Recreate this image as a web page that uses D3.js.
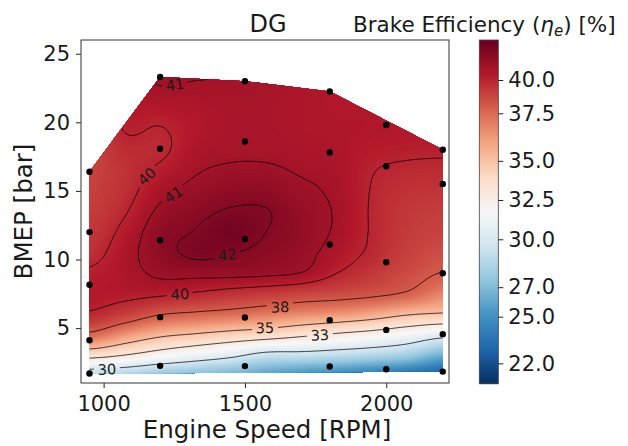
<!DOCTYPE html>
<html>
<head>
<meta charset="utf-8">
<script src="https://cdn.jsdelivr.net/npm/d3@7.9.0/dist/d3.min.js"></script>
<style>
  body { margin: 0; background: #fff; }
  svg text { font-family: "DejaVu Sans", sans-serif; fill: #1a1a1a; }
</style>
</head>
<body>
<svg id="chart" width="628" height="446"></svg>
<script>
// measured operating points
const pointSpeed = [950, 950, 950, 950, 950,
  1200, 1200, 1200, 1200, 1200,
  1500, 1500, 1500, 1500, 1500,
  1800, 1800, 1800, 1800, 1800,
  2000, 2000, 2000, 2000, 2000,
  2200, 2200, 2200, 2200, 2200];
const pointBmep = [1.69, 4.12, 8.16, 12.0, 16.4,
  2.25, 5.8, 11.4, 18.07, 23.3,
  2.23, 5.77, 11.5, 18.6, 23.0,
  2.2, 5.58, 11.1, 17.8, 22.25,
  2.0, 4.87, 9.8, 16.8, 19.8,
  1.83, 4.56, 9.0, 15.5, 18.0];

// efficiency map (rows = BMEP, columns = speed)
const gridSpeed = [950, 1075, 1200, 1325, 1450, 1575, 1700, 1825, 1950, 2075, 2200];
const gridBmep = [1.5, 3, 4.5, 6, 7.5, 9, 10.5, 12, 13.5, 15, 16.5, 18, 19.5, 21, 22.5, 24];
const efficiency = [
  [28.7, 28.3, 27.5, 27.0, 26.5, 25.8, 25.0, 24.5, 23.9, 23.2, 22.4],
  [33.6, 32.9, 32.0, 31.2, 30.4, 29.3, 29.2, 28.9, 28.5, 27.9, 26.4],
  [37.6, 36.3, 35.3, 34.8, 34.3, 33.9, 33.3, 32.7, 32.2, 31.5, 30.6],
  [39.8, 39.0, 38.05, 37.7, 37.4, 37.0, 36.6, 36.3, 35.8, 35.1, 34.8],
  [40.4, 40.35, 40.2, 39.86, 39.5, 39.2, 38.85, 38.6, 38.3, 37.8, 36.8],
  [40.15, 40.6, 41.2, 41.3, 41.3, 41.2, 40.95, 40.0, 39.3, 38.6, 37.95],
  [39.6, 40.6, 41.6, 42.2, 42.05, 41.7, 41.35, 40.55, 39.8, 39.0, 38.5],
  [39.3, 40.3, 41.6, 42.05, 42.55, 42.0, 41.5, 40.85, 39.9, 39.2, 38.9],
  [39.1, 39.9, 41.2, 41.7, 42.1, 42.05, 41.4, 40.9, 39.9, 39.3, 39.1],
  [39.0, 39.6, 40.7, 41.3, 41.6, 41.6, 41.2, 40.8, 39.95, 39.5, 39.4],
  [38.9, 39.5, 40.2, 40.9, 41.15, 41.15, 40.9, 40.7, 40.05, 39.8, 39.75],
  [38.8, 39.7, 39.8, 40.6, 40.8, 40.8, 40.7, 40.6, 40.3, 40.2, 40.15],
  [38.8, 40.05, 39.95, 40.45, 40.7, 40.7, 40.6, 40.55, 40.5, 40.4, 40.4],
  [39.5, 40.3, 40.4, 40.55, 40.75, 40.7, 40.6, 40.5, 40.5, 40.5, 40.5],
  [40.0, 40.5, 40.95, 40.85, 40.9, 40.8, 40.6, 40.5, 40.5, 40.5, 40.5],
  [40.2, 40.7, 41.3, 41.25, 40.95, 40.9, 40.65, 40.5, 40.5, 40.5, 40.5]
];

const contourLevels = [30, 33, 35, 38, 40, 41, 42];
const xTicks = [1000, 1500, 2000];
const yTicks = [5, 10, 15, 20, 25];
const cbarTicks = [22, 25, 27, 30, 32.5, 35, 37.5, 40];
// colour norm: value -> position along the colour bar
const normValues = [20.7, 22, 25, 27, 30, 32.5, 35, 37.5, 40, 43.0];
const normFractions = [0, 0.058, 0.194, 0.280, 0.4195, 0.534, 0.648, 0.7865, 0.8835, 1];
const rdbuR = ['#053061', '#2166ac', '#4393c3', '#92c5de', '#d1e5f0', '#f7f7f7',
  '#fddbc7', '#f4a582', '#d6604d', '#b2182b', '#67001f'];

// label placement for contour labels (speed, bmep, angle)
const labelSpots = [
  { v: 30, s: 1012, b: 2.0, a: -3 },
  { v: 33, s: 1765, b: 4.5, a: -3 },
  { v: 35, s: 1571, b: 5.02, a: -1 },
  { v: 38, s: 1624, b: 6.53, a: -2 },
  { v: 40, s: 1270, b: 7.48, a: -3 },
  { v: 40, s: 1153, b: 16.07, a: -42 },
  { v: 41, s: 1247, b: 14.73, a: -32 },
  { v: 41, s: 1253, b: 22.76, a: -8 },
  { v: 42, s: 1438, b: 10.35, a: -8 }
];

const svg = d3.select('#chart');
const defs = svg.append('defs');

const x = d3.scaleLinear().domain([920, 2222]).range([81, 449]);
const y = d3.scaleLinear().domain([1, 26]).range([383, 40]);

const norm = d3.scaleLinear().domain(normValues).range(normFractions).clamp(true);
const cmap = d3.scaleLinear().domain(d3.range(rdbuR.length).map(i => i / (rdbuR.length - 1)))
  .range(rdbuR).interpolate(d3.interpolateRgb);
const color = v => cmap(norm(v));

// smooth sampling of the read grid (Catmull-Rom)
function cr(p0, p1, p2, p3, t) {
  return p1 + 0.5 * t * (p2 - p0 + t * (2 * p0 - 5 * p1 + 4 * p2 - p3 + t * (3 * (p1 - p2) + p3 - p0)));
}
const nCol = gridSpeed.length, nRow = gridBmep.length;
const ds = gridSpeed[1] - gridSpeed[0], db = gridBmep[1] - gridBmep[0];
function g(i, j) {
  i = Math.max(0, Math.min(nCol - 1, i));
  j = Math.max(0, Math.min(nRow - 1, j));
  return efficiency[j][i];
}
function sample(s, b) {
  let u = Math.max(0, Math.min(nCol - 1.0001, (s - gridSpeed[0]) / ds));
  let v = Math.max(0, Math.min(nRow - 1.0001, (b - gridBmep[0]) / db));
  const i = Math.floor(u), j = Math.floor(v);
  const fx = u - i, fy = v - j;
  const r = [-1, 0, 1, 2].map(k => cr(g(i - 1, j + k), g(i, j + k), g(i + 1, j + k), g(i + 2, j + k), fx));
  return cr(r[0], r[1], r[2], r[3], fy);
}

const fx0 = 935, fdx = 5, fnx = 257;
const fy0 = 1.3, fdy = 0.1, fny = 233;
const field = new Float64Array(fnx * fny);
for (let j = 0; j < fny; j++) {
  for (let i = 0; i < fnx; i++) {
    field[j * fnx + i] = sample(fx0 + i * fdx, fy0 + j * fdy);
  }
}
const proj = d3.geoTransform({
  point(px, py) {
    this.stream.point(x(fx0 + (px - 0.5) * fdx), y(fy0 + (py - 0.5) * fdy));
  }
});
const path = d3.geoPath(proj);

// hull of the measured points
const hull = d3.polygonHull(pointSpeed.map((s, i) => [x(s), y(pointBmep[i])]));
defs.append('clipPath').attr('id', 'hull')
  .append('path').attr('d', 'M' + hull.join('L') + 'Z');

const fillG = svg.append('g').attr('clip-path', 'url(#hull)');
const fillSteps = d3.range(20.6, 43.0, 0.08);
fillG.append('rect').attr('x', 81).attr('y', 40).attr('width', 368).attr('height', 343)
  .attr('fill', color(20.6));
fillG.selectAll('path')
  .data(d3.contours().size([fnx, fny]).thresholds(fillSteps)(field))
  .join('path')
  .attr('d', path)
  .attr('fill', d => color(d.value + 0.04));

// label gaps
const labelFont = 14.5;
const mask = defs.append('mask').attr('id', 'gaps').attr('maskUnits', 'userSpaceOnUse')
  .attr('x', 0).attr('y', 0).attr('width', 628).attr('height', 446);
mask.append('rect').attr('width', 628).attr('height', 446).attr('fill', '#fff');
mask.selectAll('rect.gap')
  .data(labelSpots)
  .join('rect')
  .attr('class', 'gap')
  .attr('x', -13).attr('y', -6).attr('width', 26).attr('height', 12)
  .attr('fill', '#000')
  .attr('transform', d => `translate(${x(d.s)},${y(d.b)}) rotate(${d.a})`);

const lineG = svg.append('g').attr('clip-path', 'url(#hull)')
  .append('g').attr('mask', 'url(#gaps)');
lineG.selectAll('path')
  .data(d3.contours().size([fnx, fny]).thresholds(contourLevels)(field))
  .join('path')
  .attr('d', path)
  .attr('fill', 'none')
  .attr('stroke', '#000')
  .attr('stroke-opacity', 0.85)
  .attr('stroke-width', 0.9);

svg.append('g').selectAll('text')
  .data(labelSpots)
  .join('text')
  .attr('transform', d => `translate(${x(d.s)},${y(d.b)}) rotate(${d.a})`)
  .attr('text-anchor', 'middle')
  .attr('dy', '0.36em')
  .style('font-size', labelFont + 'px')
  .text(d => d.v);

// measured points
svg.append('g').selectAll('circle')
  .data(pointSpeed.map((s, i) => [s, pointBmep[i]]))
  .join('circle')
  .attr('cx', d => x(d[0]))
  .attr('cy', d => y(d[1]))
  .attr('r', 3.2)
  .attr('fill', '#000');

// axes
const xAxis = svg.append('g').attr('transform', 'translate(0,383)')
  .call(d3.axisBottom(x).tickValues(xTicks).tickSize(5).tickPadding(8).tickFormat(d3.format('d')));
const yAxis = svg.append('g').attr('transform', 'translate(81,0)')
  .call(d3.axisLeft(y).tickValues(yTicks).tickSize(5).tickPadding(6));
[xAxis, yAxis].forEach(a => {
  a.select('.domain').remove();
  a.selectAll('.tick line').attr('stroke', '#222').attr('stroke-width', 1);
  a.selectAll('.tick text').style('font-size', '21px').attr('fill', '#1a1a1a');
});
svg.append('rect').attr('x', 81).attr('y', 40).attr('width', 368).attr('height', 343)
  .attr('fill', 'none').attr('stroke', '#333').attr('stroke-width', 1);

svg.append('text').attr('x', 267).attr('y', 438).attr('text-anchor', 'middle')
  .style('font-size', '24.5px').text('Engine Speed [RPM]');
svg.append('text').attr('transform', 'translate(31.5,211.5) rotate(-90)').attr('text-anchor', 'middle')
  .style('font-size', '24.5px').text('BMEP [bar]');
svg.append('text').attr('x', 268).attr('y', 32).attr('text-anchor', 'middle')
  .style('font-size', '24px').text('DG');

const cbTitle = svg.append('text').attr('x', 353).attr('y', 32).style('font-size', '21.5px');
cbTitle.append('tspan').text('Brake Efficiency (');
cbTitle.append('tspan').style('font-style', 'italic').text('η');
cbTitle.append('tspan').style('font-style', 'italic').style('font-size', '15px').attr('dy', 4).text('e');
cbTitle.append('tspan').attr('dy', -4).text(') [%]');

// colour bar
const cbX = 479.3, cbW = 19;
const cbY = d3.scaleLinear().domain(normValues).range(normFractions.map(t => 383.3 - t * 343.3));
const cb = svg.append('g');
cb.selectAll('rect')
  .data(d3.range(40, 383.3, 1))
  .join('rect')
  .attr('x', cbX).attr('y', d => d).attr('width', cbW).attr('height', 1.2)
  .attr('fill', d => color(cbY.invert(d + 0.5)));
cb.append('rect').attr('x', cbX).attr('y', 40).attr('width', cbW).attr('height', 343.3)
  .attr('fill', 'none').attr('stroke', '#444').attr('stroke-width', 0.8);
const cbAxis = svg.append('g').attr('transform', `translate(${cbX + cbW},0)`)
  .call(d3.axisRight(cbY).tickValues(cbarTicks).tickSize(5).tickPadding(5).tickFormat(d3.format('.1f')));
cbAxis.select('.domain').remove();
cbAxis.selectAll('.tick line').attr('stroke', '#222');
cbAxis.selectAll('.tick text').style('font-size', '21px').attr('fill', '#1a1a1a');
</script>
</body>
</html>
